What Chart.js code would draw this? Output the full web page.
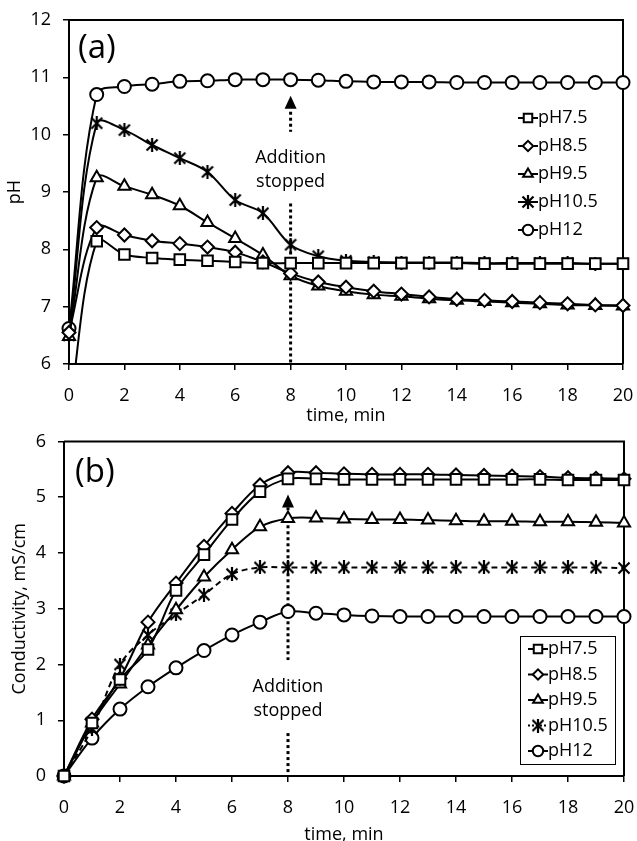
<!DOCTYPE html>
<html>
<head>
<meta charset="utf-8">
<script src="https://cdn.jsdelivr.net/npm/chart.js@4.4.1/dist/chart.umd.min.js"></script>
<style>
  body { margin: 0; background: #fff; }
  .wrap { position: absolute; left: 0; width: 637px; }
  #wrapA { top: 0; height: 432px; }
  #wrapB { top: 432px; height: 409px; }
</style>
</head>
<body>
<div class="wrap" id="wrapA"><canvas id="chartA" width="637" height="432"></canvas></div>
<div class="wrap" id="wrapB"><canvas id="chartB" width="637" height="409"></canvas></div>
<script>
// ── Data ──
const TIME = [0,1,2,3,4,5,6,7,8,9,10,11,12,13,14,15,16,17,18,19,20];
const LABELS = ['pH7.5', 'pH8.5', 'pH9.5', 'pH10.5', 'pH12'];

// (a) pH vs time
const PH_75 = [5.1, 8.14, 7.91, 7.85, 7.82, 7.8, 7.78, 7.76, 7.76, 7.76, 7.76, 7.76, 7.76, 7.76, 7.76, 7.75, 7.75, 7.75, 7.75, 7.75, 7.75];
const PH_85 = [6.55, 8.38, 8.25, 8.15, 8.1, 8.04, 7.95, 7.78, 7.58, 7.43, 7.34, 7.27, 7.22, 7.17, 7.13, 7.11, 7.09, 7.07, 7.05, 7.03, 7.02];
const PH_95 = [6.48, 9.25, 9.1, 8.95, 8.76, 8.47, 8.19, 7.9, 7.54, 7.36, 7.27, 7.21, 7.18, 7.14, 7.11, 7.09, 7.07, 7.05, 7.03, 7.02, 7.01];
const PH_105 = [6.5, 10.2, 10.08, 9.82, 9.59, 9.35, 8.86, 8.63, 8.08, 7.88, 7.8, 7.78, 7.77, 7.77, 7.77, 7.76, 7.76, 7.76, 7.76, 7.75, 7.75];
const PH_12 = [6.62, 10.7, 10.84, 10.88, 10.93, 10.94, 10.96, 10.96, 10.96, 10.95, 10.93, 10.92, 10.92, 10.92, 10.91, 10.91, 10.91, 10.91, 10.91, 10.91, 10.91];

// (b) conductivity vs time
const EC_75 = [0, 0.95, 1.73, 2.27, 3.33, 3.97, 4.6, 5.1, 5.33, 5.33, 5.32, 5.32, 5.32, 5.32, 5.32, 5.32, 5.32, 5.32, 5.31, 5.31, 5.31];
const EC_85 = [0, 1.02, 1.75, 2.76, 3.46, 4.12, 4.71, 5.22, 5.44, 5.44, 5.42, 5.41, 5.41, 5.41, 5.4, 5.39, 5.38, 5.37, 5.35, 5.34, 5.33];
const EC_95 = [0, 0.95, 1.65, 2.35, 2.98, 3.57, 4.06, 4.47, 4.62, 4.63, 4.61, 4.6, 4.6, 4.59, 4.58, 4.57, 4.57, 4.56, 4.56, 4.55, 4.54];
const EC_105 = [0, 0.85, 2.0, 2.53, 2.9, 3.25, 3.62, 3.74, 3.74, 3.74, 3.74, 3.74, 3.74, 3.74, 3.74, 3.74, 3.74, 3.74, 3.74, 3.74, 3.73];
const EC_12 = [0, 0.68, 1.2, 1.6, 1.94, 2.25, 2.53, 2.76, 2.95, 2.92, 2.89, 2.87, 2.86, 2.86, 2.86, 2.86, 2.86, 2.86, 2.86, 2.86, 2.86];

const X_TICKS = [0, 20, 2];   // min, max, step
const PH_TICKS = [6, 12, 1];
const EC_TICKS = [0, 6, 1];

// ── Styling ──
const FONT = 'Open Sans';

// asterisk marker: X plus a vertical stroke (Excel style)
function makeAsterisk(s) {
  const c = document.createElement('canvas');
  c.width = c.height = s;
  const g = c.getContext('2d');
  g.strokeStyle = '#000'; g.lineWidth = 2.2; g.lineCap = 'butt';
  const p = 1.5, m = s / 2;
  g.beginPath();
  g.moveTo(p, p); g.lineTo(s - p, s - p);
  g.moveTo(s - p, p); g.lineTo(p, s - p);
  g.moveTo(m, 0); g.lineTo(m, s);
  g.stroke();
  return c;
}
const ASTERISK = makeAsterisk(14);

const MARKERS = [
  { style: 'rect', r: 7.5 },
  { style: 'rectRot', r: 6.5 },
  { style: 'triangle', r: 7 },
  { style: ASTERISK, r: 7 },
  { style: 'circle', r: 6.5 },
];

function series(values, i, clipBottom, dash) {
  const m = MARKERS[i];
  return {
    label: LABELS[i],
    data: TIME.map((t, k) => ({ x: t, y: values[k] })),
    borderColor: '#000', borderWidth: 2, borderDash: dash || [],
    tension: 0.35,
    pointStyle: m.style, pointRadius: m.r, pointHoverRadius: m.r,
    pointBackgroundColor: '#fff', pointBorderColor: '#000', pointBorderWidth: 2,
    clip: { left: 12, top: 12, right: 12, bottom: clipBottom },
  };
}

// frame, arrow, text, panel label and legend
const decor = {
  id: 'decor',
  beforeDatasetsDraw(chart, args, o) {
    const { ctx, chartArea: a } = chart;
    const xs = chart.scales.x, ys = chart.scales.y;
    ctx.save();
    ctx.strokeStyle = '#000'; ctx.lineWidth = 2;
    ctx.beginPath(); ctx.moveTo(a.left, a.top); ctx.lineTo(a.right, a.top); ctx.lineTo(a.right, a.bottom); ctx.stroke();

    const x = xs.getPixelForValue(o.arrowX);
    ctx.lineWidth = 3; ctx.setLineDash([3, 3]);
    o.dots.forEach(([v1, v2]) => {
      ctx.beginPath(); ctx.moveTo(x, ys.getPixelForValue(v1)); ctx.lineTo(x, ys.getPixelForValue(v2)); ctx.stroke();
    });
    ctx.setLineDash([]);
    const tip = ys.getPixelForValue(o.tip);
    ctx.fillStyle = '#000';
    ctx.beginPath(); ctx.moveTo(x, tip); ctx.lineTo(x - 6, tip + 13); ctx.lineTo(x + 6, tip + 13); ctx.closePath(); ctx.fill();

    ctx.font = `18px ${FONT}`; ctx.textAlign = 'center'; ctx.textBaseline = 'middle';
    o.text.forEach((t, i) => ctx.fillText(t, x, ys.getPixelForValue(o.textY[i])));

    ctx.font = `33px ${FONT}`; ctx.textAlign = 'left';
    ctx.fillText(o.panel, a.left + o.panelDx, o.panelY);
    ctx.restore();
  },
  afterDatasetsDraw(chart, args, o) {
    const { ctx } = chart;
    const L = o.legend;
    ctx.save();
    if (L.box) {
      ctx.fillStyle = '#fff'; ctx.strokeStyle = '#000'; ctx.lineWidth = 1;
      ctx.fillRect(L.box[0], L.box[1], L.box[2], L.box[3]);
      ctx.strokeRect(L.box[0] + 0.5, L.box[1] + 0.5, L.box[2], L.box[3]);
    }
    chart.data.datasets.forEach((ds, i) => {
      const y = L.y0 + i * L.dy;
      ctx.strokeStyle = '#000'; ctx.lineWidth = 2; ctx.setLineDash(ds.borderDash.length ? [2, 2] : []);
      ctx.beginPath(); ctx.moveTo(L.x - 10, y); ctx.lineTo(L.x + 10, y); ctx.stroke();
      ctx.setLineDash([]);
      ctx.fillStyle = '#fff';
      Chart.helpers.drawPoint(ctx, { pointStyle: ds.pointStyle, radius: ds.pointRadius * 0.8, borderWidth: 2, rotation: 0 }, L.x, y);
      ctx.fillStyle = '#000'; ctx.font = `18px ${FONT}`; ctx.textAlign = 'left'; ctx.textBaseline = 'middle';
      ctx.fillText(ds.label, L.x + 10, y);
    });
    ctx.restore();
  }
};

function axes(yTicks, yTitle, yWidth, xHeight, yTitlePad, xTitlePad) {
  const tickFont = { family: FONT, size: 18 };
  const grid = { drawOnChartArea: false, drawTicks: true, tickLength: 6, color: '#000', lineWidth: 1.5 };
  const border = { display: true, color: '#000', width: 2 };
  return {
    x: {
      type: 'linear', min: X_TICKS[0], max: X_TICKS[1],
      ticks: { stepSize: X_TICKS[2], color: '#000', font: tickFont, padding: 15, maxRotation: 0 },
      grid, border,
      title: { display: true, text: 'time, min', color: '#000', font: { family: FONT, size: 18, lineHeight: 0.5 }, padding: { top: 0, bottom: xTitlePad } },
      afterFit(s) { s.height = xHeight; s.paddingLeft = 0; s.paddingRight = 0; },
    },
    y: {
      min: yTicks[0], max: yTicks[1],
      ticks: { stepSize: yTicks[2], color: '#000', font: tickFont, padding: 12 },
      grid, border,
      title: { display: true, text: yTitle, color: '#000', font: { family: FONT, size: 18, lineHeight: 1 }, padding: { top: yTitlePad, bottom: 0 } },
      afterFit(s) { s.width = yWidth; s.paddingTop = 0; s.paddingBottom = 0; },
    },
  };
}

Chart.defaults.font.family = FONT;

new Chart(document.getElementById('chartA'), {
  type: 'line',
  data: {
    datasets: [
      series(PH_75, 0, 0), series(PH_85, 1, 0), series(PH_95, 2, 0), series(PH_105, 3, 0), series(PH_12, 4, 0),
    ]
  },
  options: {
    responsive: false, animation: false, events: [],
    layout: { padding: { top: 20, right: 14, bottom: 0, left: 0 } },
    scales: axes(PH_TICKS, 'pH', 69, 68, 6, 11.5),
    plugins: {
      legend: { display: false }, tooltip: { enabled: false },
      decor: {
        arrowX: 8, tip: 10.68, dots: [[10.4, 10.05], [8.8, 6]],
        text: ['Addition', 'stopped'], textY: [9.6, 9.17],
        panel: '(a)', panelDx: 9, panelY: 49,
        legend: { x: 528, y0: 118, dy: 28 },
      },
    },
  },
  plugins: [decor],
});

new Chart(document.getElementById('chartB'), {
  type: 'line',
  data: {
    datasets: [
      series(EC_75, 0, 12), series(EC_85, 1, 12), series(EC_95, 2, 12), series(EC_105, 3, 12, [6, 4]), series(EC_12, 4, 12),
    ]
  },
  options: {
    responsive: false, animation: false, events: [],
    layout: { padding: { top: 9, right: 13, bottom: 0, left: 0 } },
    scales: axes(EC_TICKS, 'Conductivity, mS/cm', 64, 65, 11, 1.5),
    plugins: {
      legend: { display: false }, tooltip: { enabled: false },
      decor: {
        arrowX: 8, tip: 5.05, dots: [[4.82, 2.08], [0.77, 0]],
        text: ['Addition', 'stopped'], textY: [1.6, 1.16],
        panel: '(b)', panelDx: 11, panelY: 41,
        legend: { x: 538, y0: 217, dy: 25.5, box: [520, 204, 95, 128] },
      },
    },
  },
  plugins: [decor],
});
</script>
</body>
</html>
